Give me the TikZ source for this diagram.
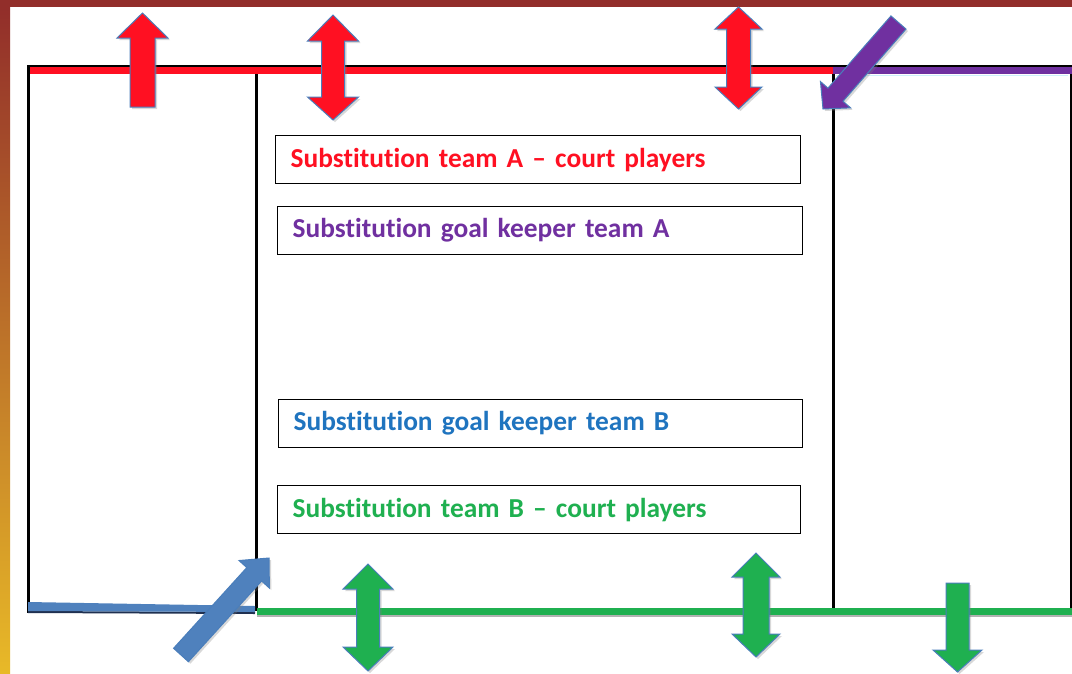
\documentclass[tikz,border=0pt]{standalone}
\usepackage{fontspec}
\setmainfont{Carlito}[Ligatures=NoCommon]
\usetikzlibrary{calc,shadows}
\definecolor{bandred}{HTML}{922E2A}
\definecolor{bandyellow}{HTML}{E8B928}
\definecolor{teamred}{HTML}{FF1022}
\definecolor{teampurple}{HTML}{7030A0}
\definecolor{teamblue}{HTML}{1F74BF}
\definecolor{teamgreen}{HTML}{1FB050}
\definecolor{arrowblue}{HTML}{4F81BD}
\definecolor{outlineblue}{HTML}{4A7EBB}
\definecolor{lightcyan}{HTML}{CDEFFB}
\definecolor{darknavy}{HTML}{1F3050}
\newcommand{\vdoublearrow}[8]{%
  \path[arrowshape,#1] (#2,#3) -- ({#2+#7},#4) -- ({#2+#8},#4) -- ({#2+#8},#5) -- ({#2+#7},#5) -- (#2,#6)
    -- ({#2-#7},#5) -- ({#2-#8},#5) -- ({#2-#8},#4) -- ({#2-#7},#4) -- cycle;}
\newcommand{\vsinglearrow}[7]{%
  \path[arrowshape,#1] (#2,#3) -- ({#2+#6},#4) -- ({#2+#7},#4) -- ({#2+#7},#5) -- ({#2-#7},#5)
    -- ({#2-#7},#4) -- ({#2-#6},#4) -- cycle;}
\newcommand{\diagarrow}[6]{%
  \coordinate (dtail) at (#2);
  \coordinate (dtip) at (#3);
  \coordinate (dbase) at ($(dtip)!#6!(dtail)$);
  \path[arrowshape,#1] ($(dtail)!#4!90:(dtip)$) -- ($(dbase)!#4!90:(dtip)$) -- ($(dbase)!#5!90:(dtip)$)
    -- (dtip) -- ($(dbase)!#5!-90:(dtip)$) -- ($(dbase)!#4!-90:(dtip)$) -- ($(dtail)!#4!-90:(dtip)$) -- cycle;}
\begin{document}
\begin{tikzpicture}[x=1pt,y=-1pt,
  arrowshape/.style={draw=outlineblue, line width=1pt, line join=miter,
    drop shadow={opacity=0.3, shadow xshift=2pt, shadow yshift=-2pt}},
  subbox/.style={draw=black, line width=1.3pt, anchor=north west, minimum height=48pt,
    inner xsep=15pt, align=left, font=\fontsize{27.4}{32}\selectfont\bfseries},
  courtline/.style={line width=7pt},
  wall/.style={draw=black, line width=3pt}]
\useasboundingbox (0,0) rectangle (1072,673);
\fill[white] (0,0) rectangle (1072,673);
% frame bands
\fill[bandred] (0,0) rectangle (1072,7);
\shade[top color=bandred, bottom color=bandyellow] (0,7) rectangle (10,673);
% court outline
\draw[black, line width=2pt] (27,66) -- (1072,66);
\draw[courtline, teamred] (27,70.5) -- (833,70.5);
\draw[courtline, teampurple] (833,70.5) -- (1072,70.5);
\draw[lightcyan, line width=1.5pt] (836,75.5) -- (1068,75.5);
\draw[wall] (28.5,65) -- (28.5,613);
\draw[wall] (256,74) -- (256,611);
\draw[wall] (833.5,74) -- (833.5,609);
\draw[black, line width=2pt] (1070.5,74) -- (1070.5,609);
% bottom lines
\draw[darknavy, line width=2pt] (28,612) -- (255,613);
\fill[arrowblue] (28,602) -- (255,606) -- (255,612) -- (28,611) -- cycle;
\draw[black!30, line width=2pt] (257,616) -- (1072,616);
\draw[courtline, teamgreen] (257,611.5) -- (1072,611.5);
% text boxes
\node[subbox, text width=495pt, text=teamred] (ca) at (275,135) {Substitution team A -- court players};
\node[subbox, text width=495pt, text=teampurple] (ga) at (277,206) {Substitution goal keeper team A};
\node[subbox, text width=494pt, text=teamblue] (gb) at (278,399) {Substitution goal keeper team B};
\node[subbox, text width=493pt, text=teamgreen] (cb) at (277,485) {Substitution team B -- court players};
% red arrows
\vsinglearrow{fill=teamred}{142.5}{13}{38}{107}{25.5}{12.5}
\vdoublearrow{fill=teamred}{333}{15}{41}{97}{120}{25.5}{11.5}
\vdoublearrow{fill=teamred}{738.5}{7}{29}{87}{109}{23.5}{12}
% purple arrow
\diagarrow{fill=teampurple}{898.5,22.5}{823,109}{10pt}{20pt}{19pt}
% blue arrow
\diagarrow{fill=arrowblue}{181,655}{269,558}{10pt}{20.5pt}{22pt}
% green arrows
\vdoublearrow{fill=teamgreen}{368}{564}{589}{647}{671}{25}{11.5}
\vdoublearrow{fill=teamgreen}{756}{553}{577}{634}{657}{24}{13}
\vsinglearrow{fill=teamgreen}{957.5}{672}{650}{583}{24.5}{11.5}
\end{tikzpicture}
\end{document}
